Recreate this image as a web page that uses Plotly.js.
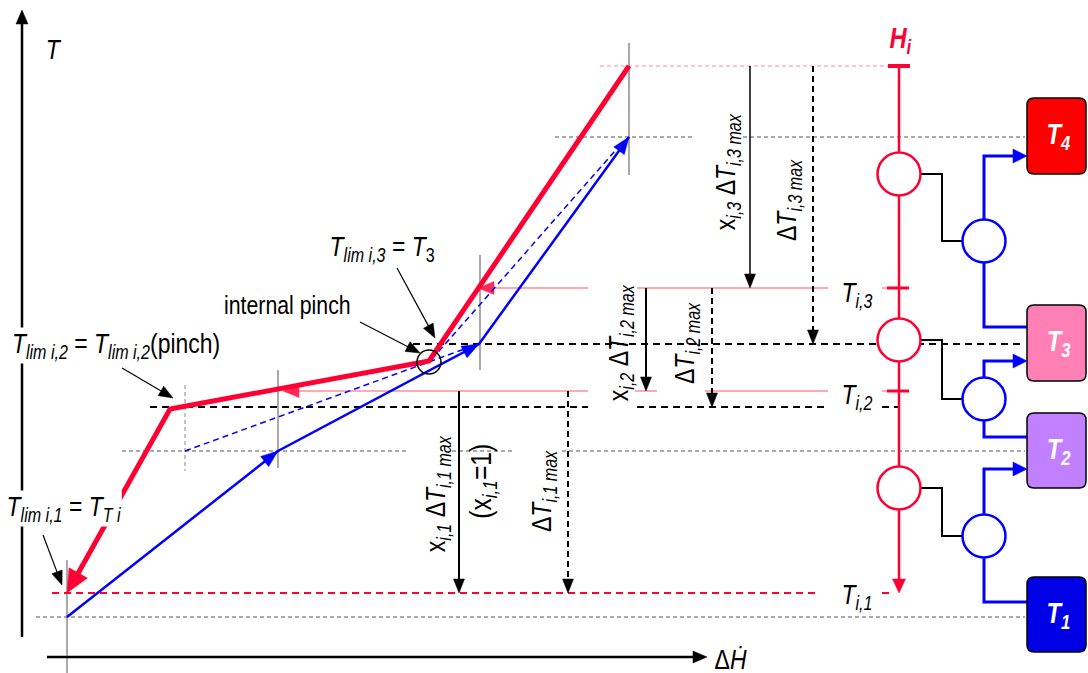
<!DOCTYPE html>
<html><head><meta charset="utf-8">
<script src="https://cdn.plot.ly/plotly-3.0.1.min.js"></script>
<style>html,body{margin:0;padding:0;background:#fff}#chart{width:1088px;height:673px}</style>
</head><body><div id="chart"></div>
<script>
const W = 1088, H = 673;
const FONT = '"Liberation Sans", Arial, sans-serif';
const NARROW = 0.82; // Arial Narrow look
const RED = '#ff0033', PINK = '#ff8c9e', BLUE = '#0000ff', GRAY = '#555555';

// ---- data (drawing units: ΔH to the right, T downward on screen) ----
const hotH  = [629, 429, 170, 67];
const hotT  = [66, 361, 409, 593];
const coldH = [67, 278, 479, 629];
const coldT = [617, 451, 344, 137];
const guide1H = [185, 478], guide1T = [451, 344];
const guide2H = [432, 622], guide2T = [359, 143];
const levelT = {top: 66, t4: 137, ti3: 288, pinch: 344, ti2: 391, lim2: 407, c2: 451, ti1: 593, c1: 617};
const hiX = 899, hiTop = 66, hiBottom = 593;
const hiCirclesT = [174, 340, 488];
const coldCirclesT = [241, 399, 536];
const upT = [156, 361, 469];
const downT = [327, 437, 602];
const boxTop = [98, 305, 413, 577];
const boxBottom = [174, 381, 488, 652];
const boxColors = ['#ff0000', '#ff80b4', '#c080ff', '#0000e6'];
const boxLabels = ['4', '3', '2', '1'];

const traces = [];
function line(xs, ys, color, width, dash) {
  traces.push({type: 'scatter', mode: 'lines', x: xs, y: ys,
    line: {color: color, width: width, dash: dash || 'solid'}, hoverinfo: 'skip', showlegend: false});
}
function head(x0, y0, x1, y1, len, wid, color) {
  const dx = x1 - x0, dy = y1 - y0, L = Math.hypot(dx, dy), ux = dx / L, uy = dy / L;
  const bx = x1 - ux * len, by = y1 - uy * len, px = -uy * wid / 2, py = ux * wid / 2;
  traces.push({type: 'scatter', mode: 'lines', x: [x1, bx + px, bx - px, x1], y: [y1, by + py, by - py, y1],
    fill: 'toself', fillcolor: color, line: {color: color, width: 0.5}, hoverinfo: 'skip', showlegend: false});
}
function arrow(x0, y0, x1, y1, color, width, dash, len, wid) {
  const dx = x1 - x0, dy = y1 - y0, L = Math.hypot(dx, dy);
  line([x0, x1 - dx / L * len * 0.7], [y0, y1 - dy / L * len * 0.7], color, width, dash);
  head(x0, y0, x1, y1, len, wid, color);
}

// gray guide lines
line([555, 695, null, 743, 1025], [levelT.t4, levelT.t4, null, levelT.t4, levelT.t4], GRAY, 1, '4px,3px');
line([122, 407, null, 452, 513, null, 562, 1025], [levelT.c2, levelT.c2, null, levelT.c2, levelT.c2, null, levelT.c2, levelT.c2], GRAY, 1, '4px,3px');
line([36, 1025], [levelT.c1, levelT.c1], GRAY, 1, '4px,3px');
line([600, 888], [levelT.top, levelT.top], PINK, 1, '4px,3px');
line([67, 67], [560, 673], GRAY, 1);
line([278, 278], [370, 468], GRAY, 1);
line([480, 480], [255, 370], GRAY, 1);
line([629, 629], [43, 175], GRAY, 1);
line([185, 185], [385, 471], '#888888', 1, '4px,3px');

// black dashed levels
line([413, 1025], [levelT.pinch, levelT.pinch], '#000', 2, '7px,5px');
line([150, 588, null, 637, 828, null, 882, 898], [levelT.lim2, levelT.lim2, null, levelT.lim2, levelT.lim2, null, levelT.lim2, levelT.lim2], '#000', 2, '7px,5px');
// red dashed Ti,1
line([52, 820, null, 882, 893], [levelT.ti1, levelT.ti1, null, levelT.ti1, levelT.ti1], RED, 2, '7px,5px');

// pink interval lines with arrowheads on the hot curve
line([490, 588, null, 637, 828, null, 882, 890], [levelT.ti3, levelT.ti3, null, levelT.ti3, levelT.ti3, null, levelT.ti3, levelT.ti3], PINK, 1.5);
line([295, 588, null, 635, 657, null, 705, 828, null, 882, 890], [levelT.ti2, levelT.ti2, null, levelT.ti2, levelT.ti2, null, levelT.ti2, levelT.ti2, null, levelT.ti2, levelT.ti2], PINK, 1.5);
head(510, levelT.ti3, 478, levelT.ti3, 16, 13, '#ff2a55');
head(310, levelT.ti2, 283, levelT.ti2, 16, 13, '#ff2a55');

// vertical interval arrows
arrow(750, levelT.top, 750, levelT.ti3, '#000', 1.5, 'solid', 14, 11);
arrow(813, levelT.top, 813, levelT.pinch, '#000', 2, '6px,4px', 14, 11);
arrow(646, levelT.ti3, 646, levelT.ti2, '#000', 2, 'solid', 14, 11);
arrow(712, levelT.ti3, 712, levelT.lim2, '#000', 2, '6px,4px', 14, 11);
arrow(459, levelT.ti2, 459, levelT.ti1, '#000', 2, 'solid', 14, 11);
arrow(568, levelT.ti2, 568, levelT.ti1, '#000', 2, '6px,4px', 14, 11);

// blue dashed guides
line(guide1H, guide1T, BLUE, 1.5, '6px,4px');
line(guide2H, guide2T, BLUE, 1.5, '6px,4px');
// cold curve
line(coldH, coldT, BLUE, 2.5);
for (let i = 1; i < coldH.length; i++) head(coldH[i - 1], coldT[i - 1], coldH[i], coldT[i], 17, 13, BLUE);
// hot curve
{
  const n = hotH.length, dx = hotH[n - 1] - hotH[n - 2], dy = hotT[n - 1] - hotT[n - 2], L = Math.hypot(dx, dy);
  const xs = hotH.slice(0, n - 1).concat([hotH[n - 1] - dx / L * 15]);
  const ys = hotT.slice(0, n - 1).concat([hotT[n - 1] - dy / L * 15]);
  line(xs, ys, RED, 5);
  head(hotH[n - 2], hotT[n - 2], hotH[n - 1], hotT[n - 1], 23, 21, RED);
}

// axes
arrow(22, 637, 22, 10, '#000', 2.5, 'solid', 14, 12);
arrow(47, 657, 707, 657, '#000', 2.5, 'solid', 14, 12);

// pointer arrows for labels
arrow(122, 368, 173, 398, '#000', 1.2, 'solid', 14, 11);
arrow(43, 535, 62, 585, '#000', 1.2, 'solid', 14, 11);
arrow(360, 322, 420, 353, '#000', 1.2, 'solid', 14, 11);
arrow(397, 268, 435, 338, '#000', 1.2, 'solid', 14, 11);

// H_i column
arrow(hiX, hiTop, hiX, hiBottom, RED, 2.5, 'solid', 14, 13);
line([888, 910], [hiTop, hiTop], RED, 4);
line([887, 909], [levelT.ti3, levelT.ti3], RED, 3);
line([887, 909], [levelT.ti2, levelT.ti2], RED, 3);
const R = 21.5, blueX = 984, boxX0 = 1027, boxX1 = 1086;
for (let i = 0; i < 3; i++) {
  line([hiX + R, 942, 942, blueX - R], [hiCirclesT[i], hiCirclesT[i], coldCirclesT[i], coldCirclesT[i]], '#000', 2);
  line([blueX, blueX, boxX0 - 10], [coldCirclesT[i] - R, upT[i], upT[i]], BLUE, 3);
  head(blueX, upT[i], boxX0, upT[i], 14, 14, BLUE);
  line([blueX, blueX, boxX0], [coldCirclesT[i] + R, downT[i], downT[i]], BLUE, 3);
}

const shapes = [];
shapes.push({type: 'circle', xref: 'x', yref: 'y', x0: 429 - 12, x1: 429 + 12, y0: 362 - 12, y1: 362 + 12, line: {color: '#000', width: 1.5}, layer: 'above'});
hiCirclesT.forEach(t => shapes.push({type: 'circle', xref: 'x', yref: 'y', x0: hiX - R, x1: hiX + R, y0: t - R, y1: t + R, fillcolor: '#fff', line: {color: RED, width: 2.5}, layer: 'above'}));
coldCirclesT.forEach(t => shapes.push({type: 'circle', xref: 'x', yref: 'y', x0: blueX - R, x1: blueX + R, y0: t - R, y1: t + R, fillcolor: '#fff', line: {color: BLUE, width: 2.5}, layer: 'above'}));
function rbox(x0, y0, x1, y1, r) {
  return `M${x0 + r},${y0} L${x1 - r},${y0} Q${x1},${y0} ${x1},${y0 + r} L${x1},${y1 - r} Q${x1},${y1} ${x1 - r},${y1} L${x0 + r},${y1} Q${x0},${y1} ${x0},${y1 - r} L${x0},${y0 + r} Q${x0},${y0} ${x0 + r},${y0} Z`;
}
boxTop.forEach((t, i) => shapes.push({type: 'path', xref: 'x', yref: 'y', path: rbox(boxX0, t, boxX1, boxBottom[i], 7), fillcolor: boxColors[i], line: {color: '#000', width: 1.5}, layer: 'above'}));

const annotations = [];
function txt(x, y, text, opts) {
  opts = opts || {};
  const font = Object.assign({family: FONT, size: 28, color: '#000'}, opts.font || {});
  const a = Object.assign({x: x, y: y, xref: 'x', yref: 'y', text: text, showarrow: false, xanchor: 'center', yanchor: 'middle', borderpad: 0}, opts);
  a.font = font;
  annotations.push(a);
}
txt(53, 49, '<i>T</i>');
txt(731, 659, 'Δ<i>Ḣ</i>');
txt(116, 345, '<i>T<sub>lim i,2</sub></i> = <i>T<sub>lim i,2</sub></i>(pinch)', {bgcolor: '#fff'});
txt(287, 305, 'internal pinch', {font: {size: 26}});
txt(382, 248, '<i>T<sub>lim i,3</sub></i> = <i>T</i><sub>3</sub>', {bgcolor: '#fff'});
txt(64, 508, '<i>T<sub>lim i,1</sub></i> = <i>T<sub>T i</sub></i>', {bgcolor: '#fff'});
txt(727, 172, 'x<sub><i>i,3</i></sub> Δ<i>T</i><sub><i>i,3 max</i></sub>', {textangle: -90});
txt(788, 200, 'Δ<i>T</i><sub><i>i,3 max</i></sub>', {textangle: -90});
txt(620, 343, 'x<sub><i>i,2</i></sub> Δ<i>T</i><sub><i>i,2 max</i></sub>', {textangle: -90});
txt(686, 343, 'Δ<i>T</i><sub><i>i,2 max</i></sub>', {textangle: -90});
txt(437, 494, 'x<sub><i>i,1</i></sub> Δ<i>T</i><sub><i>i,1 max</i></sub>', {textangle: -90});
txt(482, 482, '(x<sub><i>i,1</i></sub>=1)', {textangle: -90, font: {size: 30}});
txt(543, 491, 'Δ<i>T</i><sub><i>i,1 max</i></sub>', {textangle: -90});
txt(857, 294, '<i>T<sub>i,3</sub></i>');
txt(857, 396, '<i>T<sub>i,2</sub></i>');
txt(857, 596, '<i>T<sub>i,1</sub></i>');
txt(900, 40, '<b><i>H<sub>i</sub></i></b>', {font: {color: RED, size: 29}});
boxTop.forEach((t, i) => txt((boxX0 + boxX1) / 2 + 2, (t + boxBottom[i]) / 2, '<b><i>T<sub>' + boxLabels[i] + '</sub></i></b>', {font: {color: '#fff', size: 29}}));

const layout = {
  width: W, height: H, margin: {l: 0, r: 0, t: 0, b: 0},
  paper_bgcolor: '#fff', plot_bgcolor: '#fff', showlegend: false,
  xaxis: {range: [0, W], visible: false, fixedrange: true},
  yaxis: {range: [H, 0], visible: false, fixedrange: true},
  shapes: shapes, annotations: annotations
};
Plotly.newPlot('chart', traces, layout, {staticPlot: true, displayModeBar: false}).then(gd => {
  // condense the annotation texts horizontally (Arial Narrow look)
  gd.querySelectorAll('g.annotation-text-g').forEach(g => {
    try {
      const t = g.querySelector('text.annotation-text');
      if (!t) return;
      const r = g.querySelector('rect.bg');
      const bb = t.getBBox();
      const cx = bb.x + bb.width / 2;
      const tr = 'translate(' + cx + ',0) scale(' + NARROW + ',1) translate(' + (-cx) + ',0)';
      t.setAttribute('transform', tr);
      if (r) r.setAttribute('transform', tr);
    } catch (e) {}
  });
});
</script></body></html>
